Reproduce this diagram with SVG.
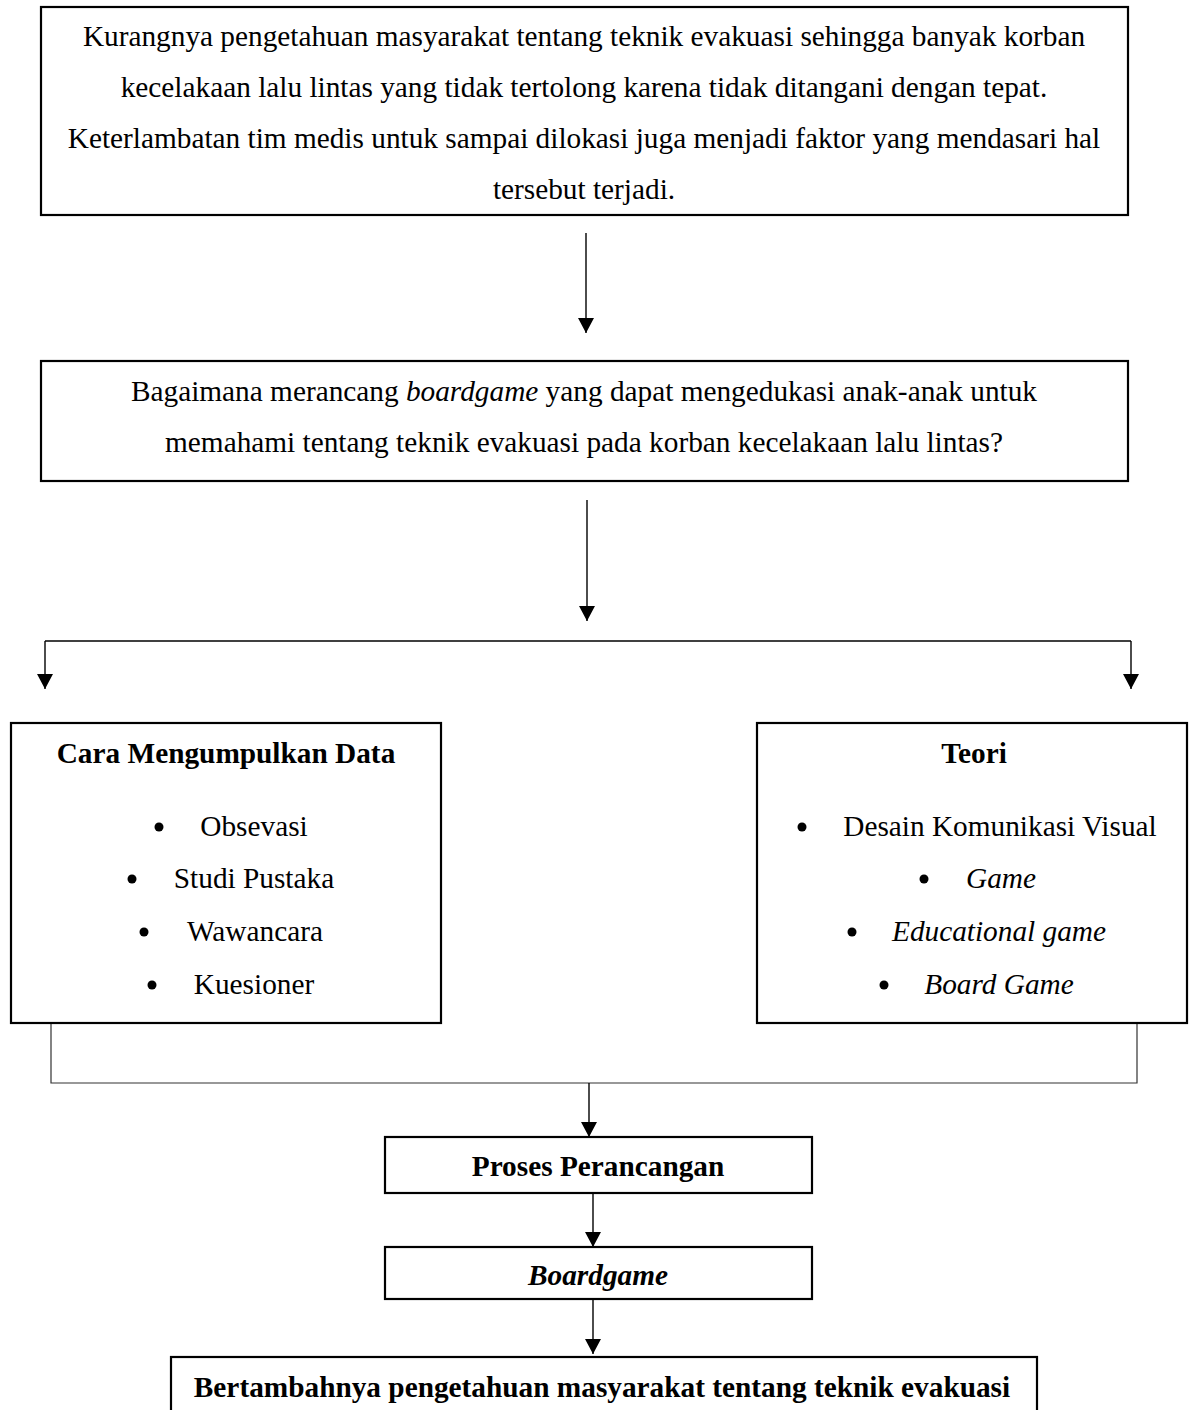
<svg xmlns="http://www.w3.org/2000/svg" width="1195" height="1410" viewBox="0 0 1195 1410">
<defs>
<style>
.box{fill:#fff;stroke:#000;stroke-width:2.2}
.t{font-family:"Liberation Serif","Times New Roman",serif;font-size:29.3px;fill:#000;text-anchor:middle}
.b{font-weight:bold}
.i{font-style:italic}
.ln{fill:none;stroke:#000;stroke-width:1.4}
.lg{fill:none;stroke:#333;stroke-width:1.2}
.dot{fill:#000}
</style>
<marker id="ah" markerUnits="userSpaceOnUse" markerWidth="16" markerHeight="16" refX="15" refY="8" orient="auto" viewBox="0 0 16 16">
<path d="M0,0 L15,8 L0,16 z" fill="#000"/>
</marker>
</defs>
<rect width="1195" height="1410" fill="#fff"/>
<g id="connectors">
<line class="ln" x1="586" y1="233" x2="586" y2="333" marker-end="url(#ah)"/>
<line class="ln" x1="587" y1="500" x2="587" y2="621" marker-end="url(#ah)"/>
<line class="ln" x1="45" y1="641" x2="1131" y2="641"/>
<line class="ln" x1="45" y1="641" x2="45" y2="689" marker-end="url(#ah)"/>
<line class="ln" x1="1131" y1="641" x2="1131" y2="689" marker-end="url(#ah)"/>
<polyline class="lg" points="51,1023 51,1083 1137,1083 1137,1023"/>
<line class="ln" x1="589" y1="1083" x2="589" y2="1137" marker-end="url(#ah)"/>
<line class="ln" x1="593" y1="1193" x2="593" y2="1247" marker-end="url(#ah)"/>
<line class="ln" x1="593" y1="1299" x2="593" y2="1354" marker-end="url(#ah)"/>
</g>
<g id="node-masalah">
<rect class="box" x="41" y="7" width="1087" height="208"/>
<text class="t" x="584" y="46">Kurangnya pengetahuan masyarakat tentang teknik evakuasi sehingga banyak korban</text>
<text class="t" x="584" y="97">kecelakaan lalu lintas yang tidak tertolong karena tidak ditangani dengan tepat.</text>
<text class="t" x="584" y="148">Keterlambatan tim medis untuk sampai dilokasi juga menjadi faktor yang mendasari hal</text>
<text class="t" x="584" y="199">tersebut terjadi.</text>
</g>
<g id="node-rumusan">
<rect class="box" x="41" y="361" width="1087" height="120"/>
<text class="t" x="584" y="401">Bagaimana merancang <tspan class="i">boardgame</tspan> yang dapat mengedukasi anak-anak untuk</text>
<text class="t" x="584" y="452">memahami tentang teknik evakuasi pada korban kecelakaan lalu lintas?</text>
</g>
<g id="node-data">
<rect class="box" x="11" y="723" width="430" height="300"/>
<text class="t b" x="226" y="763">Cara Mengumpulkan Data</text>
<circle class="dot" cx="159" cy="827" r="4.5"/>
<text class="t" x="254" y="836">Obsevasi</text>
<circle class="dot" cx="132" cy="879" r="4.5"/>
<text class="t" x="254" y="888">Studi Pustaka</text>
<circle class="dot" cx="144" cy="932" r="4.5"/>
<text class="t" x="255" y="941">Wawancara</text>
<circle class="dot" cx="152" cy="985" r="4.5"/>
<text class="t" x="254" y="994">Kuesioner</text>
</g>
<g id="node-teori">
<rect class="box" x="757" y="723" width="430" height="300"/>
<text class="t b" x="974" y="763">Teori</text>
<circle class="dot" cx="802" cy="827" r="4.5"/>
<text class="t" x="1000" y="836">Desain Komunikasi Visual</text>
<circle class="dot" cx="924" cy="879" r="4.5"/>
<text class="t i" x="1001" y="888">Game</text>
<circle class="dot" cx="852" cy="932" r="4.5"/>
<text class="t i" x="999" y="941">Educational game</text>
<circle class="dot" cx="884" cy="985" r="4.5"/>
<text class="t i" x="999" y="994">Board Game</text>
</g>
<g id="node-proses">
<rect class="box" x="385" y="1137" width="427" height="56"/>
<text class="t b" x="598" y="1176">Proses Perancangan</text>
</g>
<g id="node-boardgame">
<rect class="box" x="385" y="1247" width="427" height="52"/>
<text class="t b i" x="598" y="1285">Boardgame</text>
</g>
<g id="node-hasil">
<rect class="box" x="171" y="1357" width="866" height="80"/>
<text class="t b" x="602" y="1397">Bertambahnya pengetahuan masyarakat tentang teknik evakuasi</text>
</g>
</svg>
